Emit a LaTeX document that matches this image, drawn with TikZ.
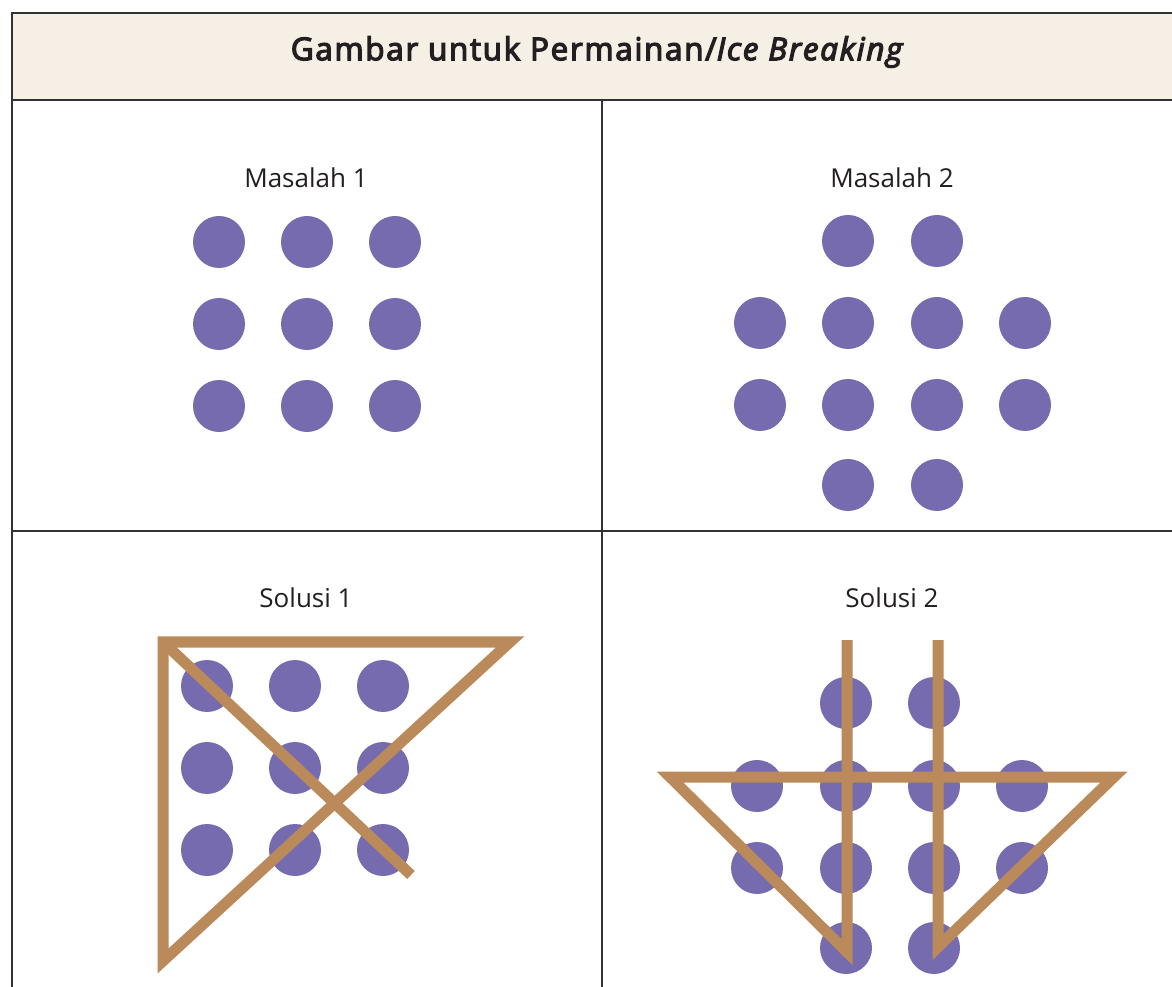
\documentclass[tikz,border=0pt]{standalone}
\usepackage{fontspec}
\setmainfont{Open Sans}
\newfontfamily\ttlfont{Open Sans}[FakeBold=4,LetterSpace=5.5]
\definecolor{dotc}{RGB}{118,107,175}
\definecolor{linec}{RGB}{187,138,90}
\definecolor{headc}{RGB}{245,239,230}
\definecolor{bordc}{RGB}{50,50,50}
\definecolor{txtc}{RGB}{35,31,32}
\begin{document}
\begin{tikzpicture}[x=0.75pt,y=-0.75pt,
  dot/.style={circle,fill=dotc,minimum size=39pt,inner sep=0pt,draw=none},
  sol/.style={draw=linec,line width=8.25pt,line join=miter,line cap=butt},
  border/.style={draw=bordc,line width=1.1pt},
  lbl/.style={text=txtc,font=\fontsize{19.5}{23}\selectfont,inner sep=0pt},
  ttl/.style={text=txtc,font=\ttlfont\fontsize{23.5}{28}\selectfont,inner sep=0pt}]
\useasboundingbox (0,0) rectangle (1172,987);
\fill[white] (0,0) rectangle (1172,987);
% header
\fill[headc] (12,13) rectangle (1172,100);
\draw[border] (1172,13) -- (12,13) -- (12,987);
\draw[border] (12,100) -- (1172,100);
\draw[border] (602,100) -- (602,987);
\draw[border] (12,531) -- (1172,531);
\node[ttl] (title) at (598,52) {Gambar untuk Permainan/\textit{Ice Breaking}};
% labels
\node[lbl] (m1) at (306,178) {Masalah 1};
\node[lbl] (m2) at (892,178) {Masalah 2};
\node[lbl] (s1) at (306,598) {Solusi 1};
\node[lbl] (s2) at (892,598) {Solusi 2};
% Masalah 1
\foreach \i/\x in {1/219,2/307,3/395}
  \foreach \j/\y in {1/242,2/324,3/406}
    \node[dot] (a\i\j) at (\x,\y) {};
% Masalah 2
\node[dot] (b21) at (848,241) {};
\node[dot] (b31) at (937,241) {};
\foreach \i/\x in {1/760,2/848,3/937,4/1025}
  \foreach \j/\y in {2/323,3/405}
    \node[dot] (b\i\j) at (\x,\y) {};
\node[dot] (b24) at (848,485) {};
\node[dot] (b34) at (937,485) {};
% Solusi 1
\foreach \i/\x in {1/207,2/295,3/383}
  \foreach \j/\y in {1/686,2/768,3/850}
    \node[dot] (c\i\j) at (\x,\y) {};
\coordinate (p1) at (163,642);
\coordinate (p2) at (510,642);
\coordinate (p3) at (163,961);
\coordinate (p4) at (411,875);
\draw[sol] (p1) -- (p2) -- (p3) -- cycle;
\draw[sol] (p1) -- (p4);
% Solusi 2
\foreach \x/\n in {846/2,934/3} {
  \node[dot] (d\n1) at (\x,703) {};
  \node[dot] (d\n4) at (\x,948) {};
}
\foreach \i/\x in {1/757,2/846,3/934,4/1022}
  \foreach \j/\y in {2/786,3/868}
    \node[dot] (d\i\j) at (\x,\y) {};
\coordinate (q1) at (847,640);
\coordinate (q2) at (847,952);
\coordinate (q3) at (670,777);
\coordinate (q4) at (1114,777);
\coordinate (q5) at (938,947);
\coordinate (q6) at (938,640);
\draw[sol] (q1) -- (q2) -- (q3) -- (q4) -- (q5) -- (q6);
\end{tikzpicture}
\end{document}
